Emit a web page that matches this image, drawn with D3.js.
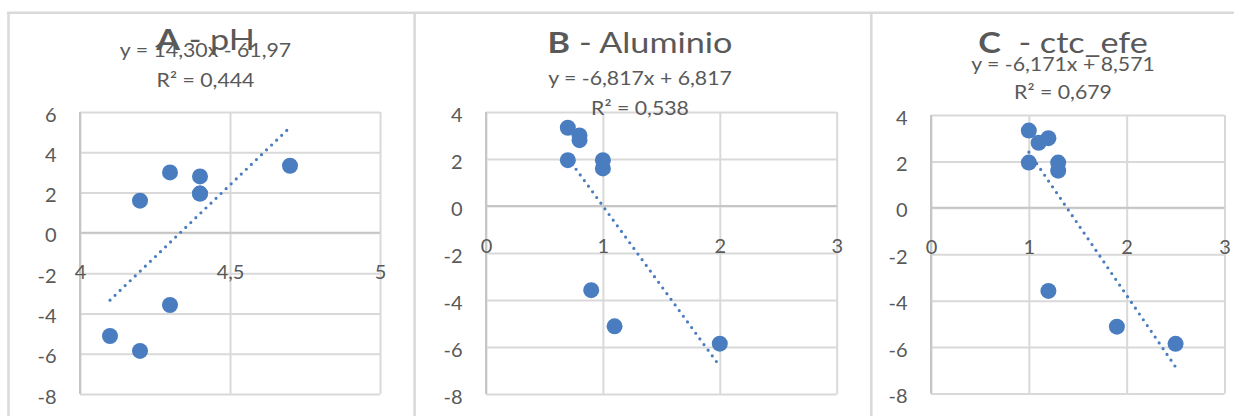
<!DOCTYPE html>
<html>
<head>
<meta charset="utf-8">
<script src="https://cdn.jsdelivr.net/npm/d3@7"></script>
<style>
  html, body { margin: 0; padding: 0; background: #fff; }
  svg { display: block; font-family: Lato, "Open Sans", sans-serif; }
  .ws { white-space: pre; }
</style>
</head>
<body>
<svg id="chart" width="1234" height="416"></svg>
<script>
// Response variable shared by the three scatter plots
const response = [3.33, 3.0, 2.8, 1.95, 1.95, 1.6, -3.58, -5.12, -5.86];

// Explanatory variables, one per panel
const phValues       = [4.7, 4.3, 4.4, 4.4, 4.4, 4.2, 4.3, 4.1, 4.2];
const aluminioValues = [0.7, 0.8, 0.8, 0.7, 1.0, 1.0, 0.9, 1.1, 2.0];
const ctcEfeValues   = [1.0, 1.2, 1.1, 1.0, 1.3, 1.3, 1.2, 1.9, 2.5];

// Axis ticks
const phTicksX  = [4, 4.5, 5];
const phTicksY  = [-8, -6, -4, -2, 0, 2, 4, 6];
const alTicksX  = [0, 1, 2, 3];
const alTicksY  = [-8, -6, -4, -2, 0, 2, 4];
const ctcTicksX = [0, 1, 2, 3];
const ctcTicksY = [-8, -6, -4, -2, 0, 2, 4];

// Linear trendlines and fit quality
const trendSlopes     = [14.30, -6.817, -6.171];
const trendIntercepts = [-61.97, 6.817, 8.571];
const trendDecimals   = [2, 3, 3];
const r2Values        = [0.444, 0.538, 0.679];

// Panel titles
const titleLetters = ["A", "B", "C"];
const titleNames   = [" - pH", " - Aluminio", "  - ctc_efe"];

const xSeries = [phValues, aluminioValues, ctcEfeValues];
const xTicks  = [phTicksX, alTicksX, ctcTicksX];
const yTicks  = [phTicksY, alTicksY, ctcTicksY];

// Geometry of each panel
const layout = [
  { left: 80,  right: 380,    top: 112, bottom: 394,   cx: 205.5, titleY: 49.5, eqY: 56.7, r2Y: 87.3 },
  { left: 486, right: 836.7,  top: 112, bottom: 394,   cx: 640,   titleY: 53.3, eqY: 85,   r2Y: 115 },
  { left: 931, right: 1224.5, top: 115, bottom: 393.5, cx: 1063,  titleY: 53.3, eqY: 70.7, r2Y: 99 }
];

const TEXT = "#595959";
const GRID = "#d9d9d9";
const AXIS = "#c6c6c6";
const MARK = "#4a7dc0";
const TICK_SIZE = 20;
const LABEL_SIZE = 19;
const LABEL_STRETCH = 1.12;
const TITLE_SIZE = 28.5;
const TITLE_STRETCH = 1.2;

const locale = d3.formatLocale({ decimal: ",", thousands: ".", grouping: [3], currency: ["", ""], minus: "-" });
const tickFmt = locale.format("~g");
const fixedFmt = (v, d) => v.toFixed(d).replace(".", ",");

const svg = d3.select("#chart");

// Panel frames
const frame = svg.append("g").attr("stroke", GRID).attr("stroke-width", 2.5).attr("fill", "none");
frame.append("line").attr("x1", 7).attr("x2", 1234).attr("y1", 12.8).attr("y2", 12.8);
[8.5, 414.6, 871.3].forEach(x => {
  frame.append("line").attr("x1", x).attr("x2", x).attr("y1", 12).attr("y2", 416);
});

layout.forEach((L, i) => {
  const xs = xSeries[i];
  const xt = xTicks[i];
  const yt = yTicks[i];
  const x = d3.scaleLinear().domain(d3.extent(xt)).range([L.left, L.right]);
  const y = d3.scaleLinear().domain(d3.extent(yt)).range([L.bottom, L.top]);
  const g = svg.append("g");

  // Horizontal gridlines
  g.append("g")
    .attr("transform", `translate(${L.left},0)`)
    .call(d3.axisLeft(y).tickValues(yt).tickSize(-(L.right - L.left)).tickFormat(""))
    .call(s => s.select(".domain").remove())
    .call(s => s.selectAll(".tick line").attr("stroke", GRID).attr("stroke-width", 2));

  // Vertical gridlines
  g.append("g")
    .attr("transform", `translate(0,${L.bottom})`)
    .call(d3.axisBottom(x).tickValues(xt).tickSize(-(L.bottom - L.top)).tickFormat(""))
    .call(s => s.select(".domain").remove())
    .call(s => s.selectAll(".tick line").attr("stroke", GRID).attr("stroke-width", 2));

  // Axis lines through the origin / left edge
  g.append("line")
    .attr("x1", L.left).attr("x2", L.right)
    .attr("y1", y(0)).attr("y2", y(0))
    .attr("stroke", AXIS).attr("stroke-width", 2);
  g.append("line")
    .attr("x1", L.left).attr("x2", L.left)
    .attr("y1", L.top).attr("y2", L.bottom)
    .attr("stroke", AXIS).attr("stroke-width", 2);

  // Y tick labels
  g.append("g")
    .attr("transform", `translate(${L.left},0)`)
    .call(d3.axisLeft(y).tickValues(yt).tickSize(0).tickPadding(23.5).tickFormat(tickFmt))
    .call(s => s.select(".domain").remove())
    .call(s => s.selectAll("text")
      .attr("dy", "0.45em")
      .attr("fill", TEXT)
      .style("font-family", "Lato, 'Open Sans', sans-serif")
      .style("font-size", TICK_SIZE + "px"));

  // X tick labels, hanging below the zero line
  g.append("g")
    .attr("transform", `translate(0,${y(0)})`)
    .call(d3.axisBottom(x).tickValues(xt).tickSize(0).tickPadding(32.3).tickFormat(tickFmt))
    .call(s => s.select(".domain").remove())
    .call(s => s.selectAll("text")
      .attr("fill", TEXT)
      .style("font-family", "Lato, 'Open Sans', sans-serif")
      .style("font-size", TICK_SIZE + "px"));

  // Observations
  g.append("g").selectAll("circle")
    .data(xs.map((v, k) => [v, response[k]]))
    .join("circle")
    .attr("cx", d => x(d[0]))
    .attr("cy", d => y(d[1]))
    .attr("r", 8)
    .attr("fill", MARK);

  // Dotted linear trendline across the data range
  const m = trendSlopes[i], b = trendIntercepts[i];
  const [x0, x1] = d3.extent(xs);
  g.append("line")
    .attr("x1", x(x0)).attr("y1", y(m * x0 + b))
    .attr("x2", x(x1)).attr("y2", y(m * x1 + b))
    .attr("stroke", MARK)
    .attr("stroke-width", 3.2)
    .attr("stroke-linecap", "round")
    .attr("stroke-dasharray", "0 7");

  // Title
  const t = g.append("text")
    .attr("class", "ws")
    .attr("transform", `translate(${L.cx},${L.titleY}) scale(${TITLE_STRETCH},1)`)
    .attr("text-anchor", "middle")
    .attr("fill", TEXT)
    .style("font-size", TITLE_SIZE + "px");
  t.append("tspan").attr("font-weight", "bold").text(titleLetters[i]);
  t.append("tspan").text(titleNames[i]);

  // Trendline equation and R²
  const eq = `y = ${fixedFmt(m, trendDecimals[i])}x ${b < 0 ? "-" : "+"} ${fixedFmt(Math.abs(b), trendDecimals[i])}`;
  g.append("text")
    .attr("transform", `translate(${L.cx},${L.eqY}) scale(${LABEL_STRETCH},1)`)
    .attr("text-anchor", "middle")
    .attr("fill", TEXT)
    .style("font-size", LABEL_SIZE + "px")
    .text(eq);
  g.append("text")
    .attr("transform", `translate(${L.cx},${L.r2Y}) scale(${LABEL_STRETCH},1)`)
    .attr("text-anchor", "middle")
    .attr("fill", TEXT)
    .style("font-size", LABEL_SIZE + "px")
    .text(`R² = ${fixedFmt(r2Values[i], 3)}`);
});
</script>
</body>
</html>
